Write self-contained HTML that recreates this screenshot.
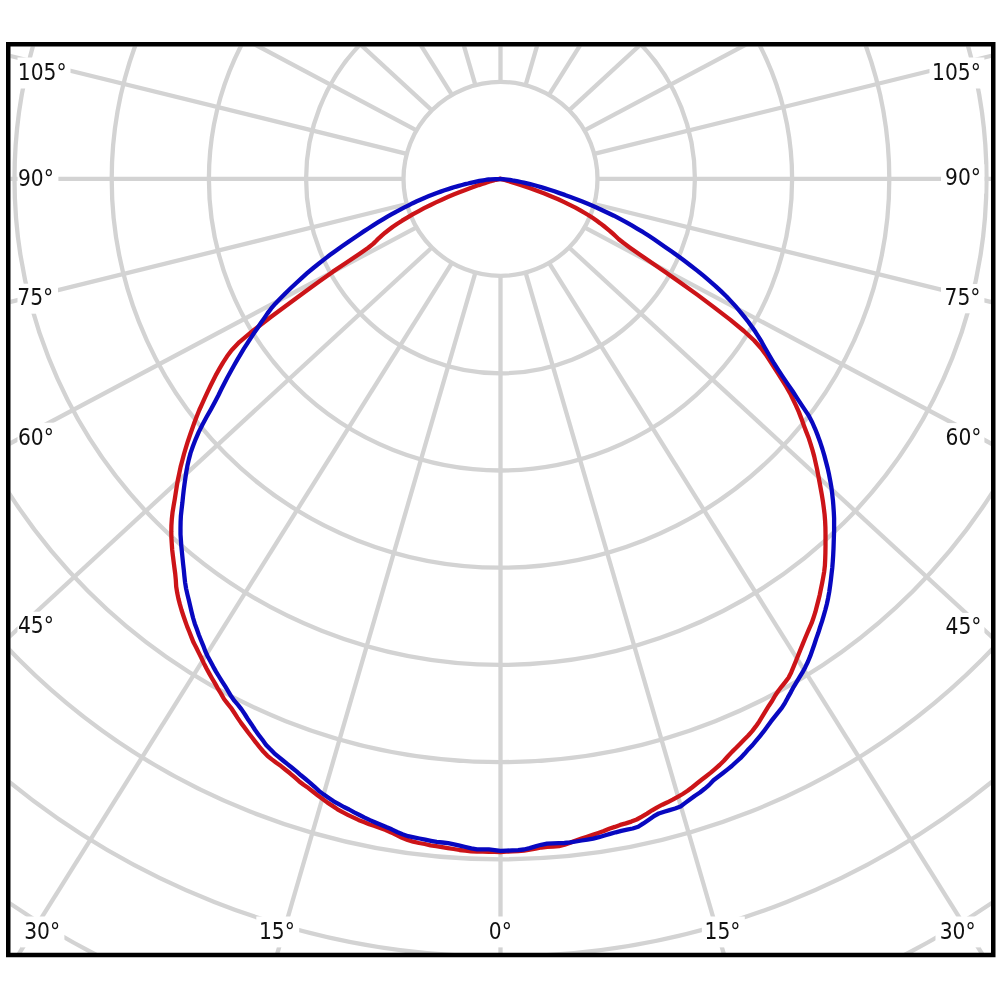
<!DOCTYPE html><html><head><meta charset="utf-8"><style>html,body{margin:0;padding:0;background:#fff;}svg{display:block;}</style></head><body>
<svg width="1000" height="1000" viewBox="0 0 1000 1000">
<defs><clipPath id="c"><rect x="10.5" y="46.5" width="980.5" height="906.5"/></clipPath></defs>
<rect width="1000" height="1000" fill="#fff"/>
<g clip-path="url(#c)" fill="none" stroke="#d3d3d3" stroke-width="4.3">
<circle cx="500.5" cy="178.9" r="97.0"/>
<circle cx="500.5" cy="178.9" r="194.4"/>
<circle cx="500.5" cy="178.9" r="291.6"/>
<circle cx="500.5" cy="178.9" r="388.8"/>
<circle cx="500.5" cy="178.9" r="486.0"/>
<circle cx="500.5" cy="178.9" r="583.2"/>
<circle cx="500.5" cy="178.9" r="680.4"/>
<circle cx="500.5" cy="178.9" r="777.6"/>
<circle cx="500.5" cy="178.9" r="874.8"/>
<line x1="500.50" y1="275.90" x2="500.50" y2="1675.90"/>
<line x1="525.61" y1="272.59" x2="916.70" y2="1616.86"/>
<line x1="549.00" y1="262.90" x2="1292.60" y2="1449.10"/>
<line x1="569.09" y1="247.49" x2="1598.88" y2="1195.93"/>
<line x1="584.50" y1="227.40" x2="1820.62" y2="884.69"/>
<line x1="594.19" y1="204.01" x2="1953.42" y2="539.44"/>
<line x1="597.50" y1="178.90" x2="1997.50" y2="178.90"/>
<line x1="594.19" y1="153.79" x2="1953.42" y2="-181.64"/>
<line x1="584.50" y1="130.40" x2="1820.62" y2="-526.89"/>
<line x1="569.09" y1="110.31" x2="1598.88" y2="-838.13"/>
<line x1="549.00" y1="94.90" x2="1292.60" y2="-1091.30"/>
<line x1="525.61" y1="85.21" x2="916.70" y2="-1259.06"/>
<line x1="500.50" y1="81.90" x2="500.50" y2="-1318.10"/>
<line x1="475.39" y1="85.21" x2="84.30" y2="-1259.06"/>
<line x1="452.00" y1="94.90" x2="-291.60" y2="-1091.30"/>
<line x1="431.91" y1="110.31" x2="-597.88" y2="-838.13"/>
<line x1="416.50" y1="130.40" x2="-819.62" y2="-526.89"/>
<line x1="406.81" y1="153.79" x2="-952.42" y2="-181.64"/>
<line x1="403.50" y1="178.90" x2="-996.50" y2="178.90"/>
<line x1="406.81" y1="204.01" x2="-952.42" y2="539.44"/>
<line x1="416.50" y1="227.40" x2="-819.62" y2="884.69"/>
<line x1="431.91" y1="247.49" x2="-597.88" y2="1195.93"/>
<line x1="452.00" y1="262.90" x2="-291.60" y2="1449.10"/>
<line x1="475.39" y1="272.59" x2="84.30" y2="1616.86"/>
</g>
<rect x="17.5" y="57.5" width="53.0" height="31.0" fill="#fff"/>
<rect x="17.5" y="163.7" width="40.9" height="30.4" fill="#fff"/>
<rect x="17.5" y="283.7" width="40.5" height="30.0" fill="#fff"/>
<rect x="17.5" y="422.7" width="40.9" height="30.4" fill="#fff"/>
<rect x="17.5" y="611.7" width="41.1" height="30.2" fill="#fff"/>
<rect x="929.5" y="57.5" width="54.9" height="31.0" fill="#fff"/>
<rect x="941.0" y="164.3" width="43.4" height="29.3" fill="#fff"/>
<rect x="941.0" y="284.0" width="43.4" height="29.3" fill="#fff"/>
<rect x="941.0" y="423.1" width="43.4" height="30.1" fill="#fff"/>
<rect x="941.0" y="612.9" width="43.4" height="29.6" fill="#fff"/>
<rect x="20.7" y="916.5" width="43.7" height="30.9" fill="#fff"/>
<rect x="256.3" y="916.5" width="42.9" height="30.9" fill="#fff"/>
<rect x="485.1" y="916.5" width="31.3" height="30.9" fill="#fff"/>
<rect x="701.9" y="916.5" width="42.9" height="30.9" fill="#fff"/>
<rect x="935.5" y="916.5" width="45.0" height="30.9" fill="#fff"/>
<g font-family="DejaVu Sans Condensed, DejaVu Sans, sans-serif" font-size="22.5" fill="#111">
<text x="17.79" y="80" text-anchor="start" class="lbl">105°</text>
<text x="17.99" y="185.6" text-anchor="start" class="lbl">90°</text>
<text x="17.3" y="305.2" text-anchor="start" class="lbl">75°</text>
<text x="17.99" y="444.6" text-anchor="start" class="lbl">60°</text>
<text x="17.89" y="633.4" text-anchor="start" class="lbl">45°</text>
<text x="932.04" y="80" text-anchor="start" class="lbl">105°</text>
<text x="945.09" y="185.1" text-anchor="start" class="lbl">90°</text>
<text x="944.6" y="304.8" text-anchor="start" class="lbl">75°</text>
<text x="945.54" y="444.7" text-anchor="start" class="lbl">60°</text>
<text x="945.54" y="634" text-anchor="start" class="lbl">45°</text>
<text x="24.19" y="938.9" text-anchor="start" class="lbl">30°</text>
<text x="258.9" y="938.9" text-anchor="start" class="lbl">15°</text>
<text x="488.75" y="938.9" text-anchor="start" class="lbl">0°</text>
<text x="704.5" y="938.9" text-anchor="start" class="lbl">15°</text>
<text x="939.64" y="938.9" text-anchor="start" class="lbl">30°</text>
</g>
<g fill="none" stroke-width="4.3" stroke-linejoin="round" stroke-linecap="round">
<path d="M500.5,178.9 L495.9,179.8 L494.1,180.3 L492.5,180.7 L490.9,181.1 L489.6,181.5 L488.2,182.0 L486.7,182.5 L484.8,183.1 L482.1,184.0 L478.7,185.1 L474.6,186.6 L469.9,188.3 L464.7,190.2 L459.3,192.3 L453.6,194.6 L447.7,197.1 L441.8,199.7 L435.9,202.4 L430.1,205.2 L424.1,208.2 L418.3,211.3 L412.6,214.4 L407.2,217.6 L402.1,220.7 L397.3,223.8 L392.9,226.8 L388.9,229.8 L385.1,232.7 L381.7,235.6 L378.7,238.3 L376.3,240.8 L373.4,243.6 L368.3,247.7 L359.3,254.0 L346.6,262.5 L332.6,271.9 L318.8,281.7 L304.7,292.0 L289.1,303.4 L271.5,316.5 L253.6,330.2 L239.4,342.1 L231.6,350.2 L226.9,356.6 L223.0,362.6 L219.6,368.4 L216.4,374.1 L213.4,379.9 L210.5,385.7 L207.7,391.6 L204.9,397.6 L202.1,403.8 L199.3,410.0 L196.8,416.2 L194.5,422.3 L192.3,428.5 L190.1,434.8 L187.9,441.2 L185.9,447.6 L184.0,454.0 L182.3,460.5 L180.6,466.9 L179.3,473.3 L177.9,479.7 L176.8,486.1 L175.8,492.5 L174.8,499.0 L173.6,505.8 L172.5,512.7 L171.8,519.3 L171.4,525.7 L171.3,531.9 L171.4,538.0 L171.8,544.0 L172.2,549.9 L172.9,555.8 L173.6,561.6 L174.4,567.6 L175.2,573.6 L175.8,579.9 L176.2,586.6 L177.2,592.8 L178.4,598.6 L179.9,604.4 L181.5,610.0 L183.3,615.5 L185.2,621.0 L187.1,626.4 L189.3,631.7 L191.4,637.1 L193.6,642.6 L196.2,647.5 L198.7,652.6 L201.3,657.8 L203.8,663.1 L206.4,668.3 L209.2,673.4 L212.1,678.5 L215.0,683.4 L217.9,688.6 L221.0,693.6 L224.0,699.0 L227.4,703.4 L231.0,707.8 L234.3,712.8 L237.6,717.9 L241.0,722.9 L244.6,727.6 L248.2,732.5 L251.9,737.3 L255.6,742.1 L259.4,746.9 L263.3,751.5 L267.4,755.8 L271.8,759.4 L276.3,762.8 L281.0,766.1 L285.5,769.7 L290.0,773.3 L294.5,777.2 L299.0,781.2 L303.6,784.8 L308.4,788.1 L313.1,791.8 L317.9,795.5 L322.7,799.0 L327.5,802.6 L332.5,805.9 L337.5,809.3 L342.6,812.2 L347.8,814.8 L353.1,817.4 L358.4,819.9 L363.8,822.0 L369.2,824.2 L374.7,826.0 L380.2,828.1 L385.7,830.1 L391.1,832.4 L396.6,835.1 L402.0,837.7 L407.6,839.9 L413.2,841.7 L419.0,843.0 L424.7,844.0 L430.5,845.3 L436.2,846.2 L442.0,847.2 L447.8,848.1 L453.6,849.0 L459.5,850.0 L465.3,850.7 L471.1,851.3 L477.0,851.5 L482.9,851.7 L488.8,851.8 L494.6,851.9 L500.5,852.0 L506.4,851.7 L512.2,851.4 L518.1,851.1 L524.0,850.6 L529.8,849.6 L535.6,848.6 L541.4,847.5 L547.2,846.9 L553.1,846.7 L558.9,846.1 L564.6,844.6 L570.3,842.6 L575.9,840.6 L581.5,838.6 L587.1,836.7 L592.7,834.9 L598.3,833.0 L603.8,831.0 L609.2,828.7 L614.8,826.9 L620.2,824.9 L625.8,823.4 L631.3,821.6 L636.7,819.5 L641.9,816.6 L647.0,813.6 L652.1,810.3 L657.2,807.3 L662.3,804.7 L667.5,802.3 L672.7,799.7 L677.7,796.9 L682.7,794.0 L687.6,790.8 L692.3,787.2 L696.9,783.5 L701.6,779.8 L706.2,776.2 L710.8,772.6 L715.2,768.8 L719.6,765.0 L723.9,760.8 L727.9,756.3 L732.0,751.9 L736.2,747.8 L740.2,743.7 L744.3,739.6 L748.3,735.5 L752.2,731.1 L755.8,726.4 L759.3,721.4 L762.5,716.1 L765.7,710.8 L768.9,705.7 L772.2,700.8 L775.2,695.5 L778.4,690.7 L781.8,686.3 L785.2,682.1 L788.5,677.7 L791.2,672.4 L793.6,666.7 L795.9,661.0 L798.2,655.3 L800.4,649.7 L802.7,644.2 L804.9,638.8 L807.1,633.5 L809.3,628.3 L811.6,623.2 L813.5,617.7 L815.3,612.2 L816.8,606.4 L818.3,600.6 L819.7,594.9 L820.9,589.0 L822.1,583.2 L823.2,577.4 L824.2,571.6 L824.9,565.5 L825.2,559.1 L825.4,552.7 L825.5,546.2 L825.5,539.9 L825.5,533.6 L825.4,527.3 L825.1,521.0 L824.6,514.5 L823.8,507.9 L822.9,501.3 L821.8,494.7 L820.6,488.0 L819.4,481.5 L818.2,475.2 L817.0,468.9 L815.6,462.6 L814.2,456.4 L812.5,450.1 L810.5,443.7 L808.4,437.2 L805.8,430.6 L803.4,424.2 L801.2,418.1 L798.8,411.9 L796.0,405.6 L793.0,399.3 L790.0,393.1 L786.3,386.6 L782.1,379.8 L777.8,373.0 L773.6,366.6 L769.6,360.4 L765.7,354.4 L761.1,348.2 L754.2,340.5 L743.9,331.0 L730.1,319.6 L713.8,307.1 L697.5,294.9 L681.6,283.5 L666.3,272.7 L652.1,263.0 L639.7,254.5 L630.0,247.7 L623.3,242.8 L618.8,239.2 L615.7,236.3 L612.9,233.7 L610.0,231.1 L607.0,228.6 L603.8,226.0 L600.4,223.4 L596.8,220.8 L592.9,218.1 L589.0,215.5 L584.8,213.0 L580.3,210.3 L575.4,207.6 L569.8,204.8 L564.2,202.1 L558.2,199.3 L551.5,196.5 L544.4,193.6 L537.0,190.8 L529.6,188.1 L522.8,185.7 L516.7,183.7 L511.8,182.1 L507.8,180.9 L504.7,180.0 L502.1,179.3 L499.7,178.7 L500.5,178.9" stroke="#cc1418"/>
<path d="M500.5,178.9 L490.4,179.3 L488.6,179.5 L486.9,179.7 L485.0,180.0 L483.2,180.3 L481.3,180.6 L479.3,180.9 L477.3,181.3 L475.2,181.8 L473.0,182.3 L470.6,182.8 L468.0,183.5 L465.1,184.2 L462.1,185.0 L458.8,185.9 L455.4,186.8 L451.9,187.9 L448.2,189.1 L444.5,190.3 L440.7,191.6 L436.8,193.0 L432.9,194.5 L428.9,196.1 L424.9,197.7 L420.9,199.5 L416.8,201.3 L412.7,203.2 L408.6,205.3 L404.4,207.4 L400.2,209.6 L396.0,211.8 L391.8,214.2 L387.4,216.7 L382.9,219.4 L378.2,222.2 L373.5,225.1 L368.7,228.2 L363.8,231.4 L358.9,234.7 L353.7,238.2 L348.2,242.0 L342.4,246.0 L336.5,250.2 L330.5,254.6 L324.5,259.1 L318.6,263.7 L312.7,268.5 L307.1,273.2 L301.6,278.1 L296.3,283.0 L290.9,288.0 L285.5,293.2 L280.3,298.5 L275.3,303.7 L271.0,308.7 L267.5,313.4 L264.3,318.1 L261.0,322.8 L257.7,327.7 L254.2,332.8 L250.7,338.1 L247.3,343.4 L243.9,348.7 L240.5,354.3 L237.2,359.9 L234.0,365.5 L230.8,371.3 L227.5,377.2 L224.4,383.2 L221.3,389.3 L218.3,395.5 L214.9,402.0 L211.0,409.2 L206.7,416.8 L202.4,424.7 L198.7,432.1 L195.6,439.3 L192.9,446.3 L190.5,453.1 L188.8,459.6 L187.4,465.8 L186.3,471.9 L185.4,477.9 L184.5,484.1 L183.7,490.3 L183.0,496.4 L182.4,502.6 L181.6,509.2 L180.9,515.7 L180.6,522.0 L180.5,528.2 L180.5,534.3 L180.9,540.2 L181.3,546.1 L181.9,551.9 L182.5,557.9 L183.1,563.9 L183.8,570.0 L184.4,576.3 L185.1,582.5 L186.1,588.6 L187.4,594.4 L188.8,600.1 L190.2,606.0 L191.6,612.0 L193.1,618.0 L194.8,623.7 L196.8,629.1 L198.8,634.7 L201.0,640.2 L203.2,645.6 L205.3,651.3 L207.8,656.5 L210.5,661.5 L213.2,666.6 L216.0,671.6 L219.0,676.5 L222.0,681.3 L225.1,686.2 L228.1,691.2 L231.2,696.3 L234.5,700.9 L238.2,705.1 L241.7,709.6 L245.0,714.5 L248.3,719.8 L251.7,724.7 L255.1,730.0 L258.7,734.9 L262.4,739.8 L266.1,744.9 L270.1,749.1 L274.3,753.3 L278.6,756.9 L283.0,760.5 L287.5,764.1 L292.0,767.7 L296.5,771.4 L300.9,775.3 L305.5,779.0 L310.1,782.8 L314.6,786.8 L319.2,791.1 L323.9,794.6 L328.8,798.0 L333.7,801.3 L338.8,804.1 L343.9,807.0 L349.1,809.5 L354.2,812.4 L359.5,815.0 L364.7,817.6 L370.0,820.1 L375.4,822.5 L380.8,824.8 L386.2,827.1 L391.7,829.3 L397.1,832.0 L402.5,834.3 L408.1,836.2 L413.8,837.4 L419.5,838.5 L425.2,839.7 L430.9,840.8 L436.7,841.8 L442.4,842.5 L448.2,843.2 L454.0,844.3 L459.7,845.6 L465.5,847.0 L471.3,848.4 L477.1,849.3 L482.9,849.4 L488.8,849.3 L494.6,850.1 L500.5,850.9 L506.4,850.7 L512.2,850.4 L518.1,850.1 L523.9,849.5 L529.7,848.1 L535.5,846.4 L541.2,844.8 L547.0,843.7 L552.8,843.4 L558.6,843.2 L564.4,843.0 L570.2,842.4 L576.0,841.5 L581.7,840.5 L587.5,839.6 L593.2,838.6 L598.9,837.2 L604.5,835.5 L610.1,833.9 L615.7,832.3 L621.3,830.9 L627.0,829.7 L632.7,828.5 L638.2,826.8 L643.4,823.4 L648.5,819.9 L653.5,816.4 L658.7,813.5 L664.2,811.7 L669.6,810.1 L675.1,808.5 L680.5,806.5 L685.3,802.9 L690.2,799.3 L695.0,795.7 L699.9,792.5 L704.6,788.8 L709.2,784.9 L713.5,780.3 L718.1,776.8 L722.7,773.2 L727.3,769.6 L731.8,766.0 L736.1,762.0 L740.4,758.2 L744.5,753.8 L748.5,749.2 L752.6,745.0 L756.4,740.4 L760.2,735.8 L763.9,731.2 L767.5,726.3 L771.0,721.4 L774.6,716.8 L778.2,712.3 L781.8,707.9 L785.0,702.8 L787.9,697.4 L790.9,692.1 L793.7,686.8 L796.7,681.8 L799.7,676.8 L802.7,672.0 L805.4,666.9 L808.0,661.5 L810.3,655.9 L812.4,650.1 L814.4,644.3 L816.3,638.4 L818.3,632.8 L820.1,627.0 L822.0,621.4 L823.7,615.6 L825.3,610.0 L826.8,604.2 L828.1,598.2 L829.2,592.1 L830.1,585.9 L830.9,579.7 L831.6,573.5 L832.3,567.4 L832.8,561.2 L833.2,554.9 L833.5,548.7 L833.7,542.5 L833.9,536.5 L834.1,530.4 L834.1,524.4 L834.1,518.3 L833.8,512.2 L833.4,506.1 L832.9,499.9 L832.2,493.7 L831.4,487.4 L830.3,481.1 L829.1,474.8 L827.7,468.4 L826.0,461.9 L824.3,455.4 L822.4,449.0 L820.3,442.6 L817.9,435.9 L815.3,429.3 L812.3,422.5 L808.4,415.1 L802.7,406.6 L797.4,398.6 L792.5,391.0 L787.4,383.6 L782.5,376.4 L778.1,369.7 L774.1,363.5 L770.6,357.7 L767.5,352.3 L764.6,347.2 L761.8,342.2 L758.9,337.3 L755.7,332.3 L752.2,327.2 L748.4,322.0 L744.4,316.9 L740.3,311.8 L735.9,306.7 L731.3,301.6 L726.5,296.5 L721.2,291.4 L715.5,286.1 L709.5,280.9 L703.4,275.7 L697.2,270.6 L690.9,265.7 L684.4,260.8 L678.0,256.1 L671.7,251.6 L665.8,247.4 L660.1,243.4 L654.4,239.5 L648.8,235.8 L643.2,232.2 L637.5,228.8 L631.8,225.4 L626.0,222.1 L620.0,218.9 L613.9,215.7 L607.6,212.7 L601.2,209.7 L594.8,206.8 L588.4,204.1 L582.3,201.6 L576.4,199.2 L570.5,197.0 L564.8,194.9 L559.5,193.1 L554.4,191.3 L549.6,189.8 L545.1,188.4 L541.0,187.1 L537.2,186.0 L533.6,185.0 L530.2,184.1 L527.0,183.3 L523.9,182.6 L520.9,182.0 L518.0,181.4 L515.2,180.8 L512.4,180.4 L509.7,179.9 L500.5,178.9" stroke="#0808c0"/>
</g>
<rect x="8.25" y="44.25" width="985" height="910.75" fill="none" stroke="#000" stroke-width="4.5"/>
</svg></body></html>
